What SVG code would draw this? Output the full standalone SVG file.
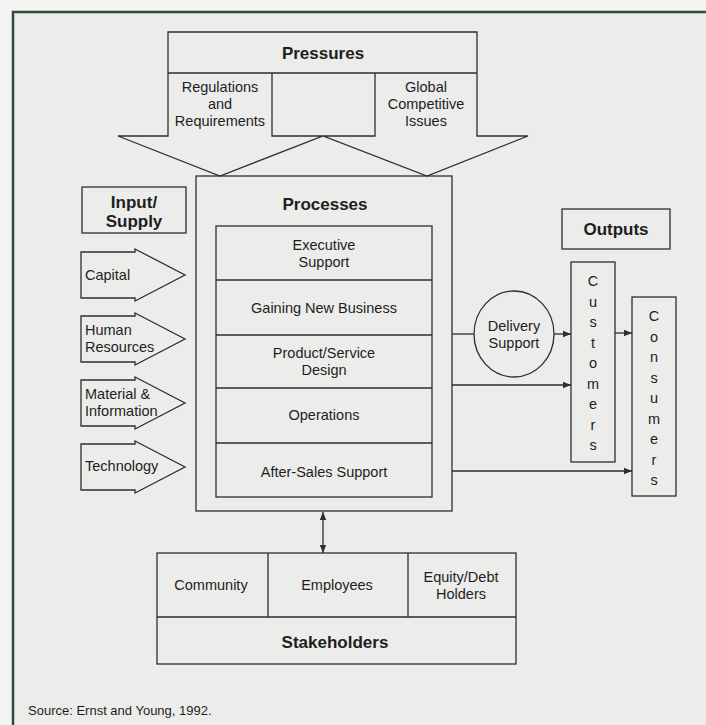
<svg xmlns="http://www.w3.org/2000/svg" width="706" height="725" viewBox="0 0 706 725">
<defs>
<style>
.s{fill:none;stroke:#2e2e2e;stroke-width:1.3}
.t{font-family:"Liberation Sans",Arial,sans-serif;font-size:14.5px;fill:#1e1e1e;text-anchor:middle}
.l{text-anchor:start}
.b{font-weight:bold;font-size:17px}
</style>
<marker id="ah" viewBox="0 0 10 10" refX="10" refY="5" markerWidth="8" markerHeight="8" markerUnits="userSpaceOnUse" orient="auto-start-reverse">
<path d="M0,1 L10,5 L0,9 Z" fill="#2e2e2e"/>
</marker>
</defs>
<rect x="0" y="0" width="706" height="725" fill="#f3f3f1"/>
<rect x="13" y="12" width="700" height="720" fill="#ececea"/>
<path d="M13,725 V12 H706" fill="none" stroke="#34483e" stroke-width="2.5"/>

<g id="pressures">
<path class="s" d="M168,32 H477 V136 H528 L427,176 L323,136 L220,176 L118,136 H168 Z M168,73 H477 M272,73 V136 H375 V73"/>
<text class="t b" x="323" y="59">Pressures</text>
<text class="t" x="220" y="92">Regulations</text>
<text class="t" x="220" y="109">and</text>
<text class="t" x="220" y="126">Requirements</text>
<text class="t" x="426" y="92">Global</text>
<text class="t" x="426" y="109">Competitive</text>
<text class="t" x="426" y="126">Issues</text>
</g>

<g id="input-supply">
<rect class="s" x="82" y="187" width="104" height="46"/>
<text class="t b" x="134" y="208">Input/</text>
<text class="t b" x="134" y="227">Supply</text>
</g>

<g id="capital">
<path class="s" d="M81,252 H135 V249 L185,275 L135,301 V298 H81 Z"/>
<text class="t l" x="85" y="280">Capital</text>
</g>
<g id="human-resources">
<path class="s" d="M81,316 H135 V313 L185,339 L135,365 V362 H81 Z"/>
<text class="t l" x="85" y="335">Human</text>
<text class="t l" x="85" y="352">Resources</text>
</g>
<g id="material-information">
<path class="s" d="M81,380 H135 V377 L185,403 L135,429 V426 H81 Z"/>
<text class="t l" x="85" y="399">Material &amp;</text>
<text class="t l" x="85" y="416">Information</text>
</g>
<g id="technology">
<path class="s" d="M81,444 H135 V441 L185,467 L135,493 V490 H81 Z"/>
<text class="t l" x="85" y="471">Technology</text>
</g>

<g id="processes">
<rect class="s" x="196" y="176" width="256" height="335"/>
<text class="t b" x="325" y="210">Processes</text>
<rect class="s" x="216" y="226" width="216" height="271"/>
<path class="s" d="M216,280 H432 M216,335 H432 M216,388 H432 M216,443 H432"/>
<text class="t" x="324" y="250">Executive</text>
<text class="t" x="324" y="267">Support</text>
<text class="t" x="324" y="313">Gaining New Business</text>
<text class="t" x="324" y="358">Product/Service</text>
<text class="t" x="324" y="375">Design</text>
<text class="t" x="324" y="420">Operations</text>
<text class="t" x="324" y="477">After-Sales Support</text>
</g>

<g id="outputs">
<rect class="s" x="562" y="209" width="108" height="40"/>
<text class="t b" x="616" y="235">Outputs</text>
</g>

<g id="delivery-support">
<ellipse class="s" cx="514" cy="334" rx="40" ry="43"/>
<text class="t" x="514" y="331">Delivery</text>
<text class="t" x="514" y="348">Support</text>
</g>

<g id="customers">
<rect class="s" x="571" y="262" width="44" height="200"/>
<text class="t" x="593" y="286">C</text>
<text class="t" x="593" y="307">u</text>
<text class="t" x="593" y="327">s</text>
<text class="t" x="593" y="348">t</text>
<text class="t" x="593" y="368">o</text>
<text class="t" x="593" y="389">m</text>
<text class="t" x="593" y="409">e</text>
<text class="t" x="593" y="430">r</text>
<text class="t" x="593" y="450">s</text>
</g>

<g id="consumers">
<rect class="s" x="632" y="297" width="44" height="199"/>
<text class="t" x="654" y="321">C</text>
<text class="t" x="654" y="342">o</text>
<text class="t" x="654" y="362">n</text>
<text class="t" x="654" y="383">s</text>
<text class="t" x="654" y="403">u</text>
<text class="t" x="654" y="424">m</text>
<text class="t" x="654" y="444">e</text>
<text class="t" x="654" y="465">r</text>
<text class="t" x="654" y="485">s</text>
</g>

<g id="stakeholders">
<rect class="s" x="157" y="553" width="359" height="111"/>
<path class="s" d="M157,617 H516 M268,553 V617 M408,553 V617"/>
<text class="t" x="211" y="590">Community</text>
<text class="t" x="337" y="590">Employees</text>
<text class="t" x="461" y="582">Equity/Debt</text>
<text class="t" x="461" y="599">Holders</text>
<text class="t b" x="335" y="648">Stakeholders</text>
</g>

<g id="connectors">
<line class="s" x1="452" y1="334" x2="474" y2="334"/>
<line class="s" x1="554" y1="334" x2="571" y2="334" marker-end="url(#ah)"/>
<line class="s" x1="452" y1="385" x2="571" y2="385" marker-end="url(#ah)"/>
<line class="s" x1="615" y1="333" x2="632" y2="333" marker-end="url(#ah)"/>
<line class="s" x1="452" y1="471" x2="632" y2="471" marker-end="url(#ah)"/>
<line class="s" x1="323" y1="512" x2="323" y2="553" marker-start="url(#ah)" marker-end="url(#ah)"/>
</g>

<text class="t l" x="28" y="715" style="font-size:13px">Source: Ernst and Young, 1992.</text>
</svg>
